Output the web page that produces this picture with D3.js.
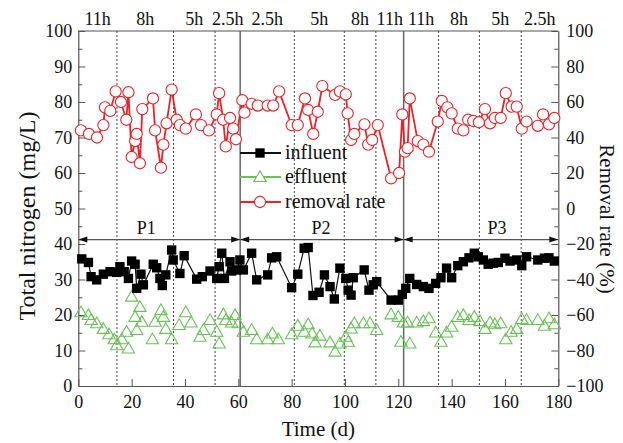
<!DOCTYPE html>
<html><head><meta charset="utf-8">
<script src="https://cdn.jsdelivr.net/npm/d3@7"></script>
<style>html,body{margin:0;padding:0;background:#fff}svg{display:block}</style>
</head><body><div id="chart"></div>
<script>
// ---- data ----
const removalRate = [[1,44],[4,42],[7,40],[9.4,47],[10,57],[12,55],[14,66],[16,60],[18,50],[18.8,65.5],[20,29],[21.3,38],[21.9,42],[23.1,25.5],[24,56],[28,62],[28.8,44],[31,23],[31.9,36],[33.1,48],[35,67],[36.9,50],[38.1,47],[40.3,45],[44.1,53],[46,47],[49,44],[51.9,53],[52.8,65],[54.3,50],[55.3,35],[56.9,51],[58.1,45],[59.1,39],[61.5,61],[62.3,54],[65,59],[67.3,58],[71,58],[73.1,58],[75.3,66],[80,47],[82.3,47],[85,62],[86.2,55.5],[88.1,42],[89.8,54.5],[91.5,69],[96.3,64],[98.1,66],[100.3,64.3],[101,53.6],[102.3,38.6],[103.5,42],[107.3,47.4],[108.7,36],[110.2,38.6],[112.3,47],[117.3,17],[120.3,20],[121.5,53],[122.5,32],[123.5,34],[124.3,62],[127.3,38],[129.4,36],[131.5,32],[134.8,49],[136.3,60.6],[138.4,57],[140,53.6],[142.3,45],[144.4,44],[146.2,50],[148.1,49.3],[150.2,48.6],[152.5,56],[154.4,48],[156.2,51],[158.4,51],[160.3,65],[162.5,57.4],[164.4,57.4],[166.3,45],[168.1,49],[172.3,46.6],[174.3,53],[176.5,47.4],[178.5,51]];
const influent = [[1.3,35.8],[3.8,34.8],[4.8,30.8],[6.9,29.9],[9.4,31.5],[11.9,32.2],[14.4,32],[15.6,33.6],[17.2,32.2],[18.8,30.3],[20,35.2],[21.3,34.3],[21.9,27.5],[23.5,31.5],[24.4,28.5],[28.1,34.3],[29.4,33.3],[30.6,30.3],[31.5,28.3],[32.8,31.3],[35,38.3],[35.6,35.5],[38.1,31.7],[39.7,36.7],[44.4,30.1],[46.5,30.8],[49.4,32.4],[51.9,30.3],[52.8,33.6],[53.8,37.4],[54.8,30.3],[56.9,35],[57.5,32.4],[59.4,32.7],[60.6,35.5],[61.9,32.7],[65,37.4],[66.9,29.9],[71,31.3],[72.5,36.1],[74.4,36.4],[80,27.7],[82.3,31.5],[84.7,38.8],[86.2,39],[88,25.5],[90.3,26.4],[92.3,31.3],[94.4,28],[96,24.5],[98.1,33.2],[100.3,30.3],[101.2,27],[102.3,25.6],[103.1,30.5],[107.2,32.7],[109,27],[110.6,28.5],[111.9,29.4],[117.3,24.2],[120,24.2],[121.5,25.8],[122.8,27.5],[124.3,30.3],[126.9,28.6],[129.4,28],[131.5,27.5],[134,28.9],[136,30.5],[138.1,33.2],[140,30.5],[142.3,33.9],[144.4,35],[146.5,36.1],[148.5,37.4],[150,36.4],[151.9,35.5],[153.7,34.3],[155.6,34.6],[157.5,34.8],[160,36],[161.9,35.2],[164.4,35.5],[166.3,33.9],[168.1,36.4],[172.3,35.5],[174.8,36],[176.5,36.1],[178.5,35.2]];
const effluent = [[1,20.8],[3.8,20],[4.8,18.6],[6.9,17.7],[9.4,16.1],[11.5,14.6],[13.5,13.2],[14.4,11.5],[16.3,13.2],[18.1,15.3],[18.8,10.6],[20,25.2],[21.3,19.5],[21.9,15.8],[23.1,22.3],[23.8,18.1],[27.8,13.2],[28.8,18.1],[31,21.4],[31.9,19.5],[32.8,16.1],[35,13.2],[37.8,17.2],[40.3,20.8],[42.3,17.9],[45.6,13.9],[46.9,15.8],[49.4,18.6],[51.9,15.3],[52.8,12],[54.4,20.2],[55.3,18.6],[57.5,17.9],[58.8,20],[60,17.7],[61.9,15.3],[65,15.8],[66.9,13.2],[71,13.2],[72.8,14.8],[75,13.2],[80,14.6],[82.3,17],[84.7,15.3],[86.2,17.4],[87.7,14.8],[88.8,12.3],[90.6,14.2],[94.4,12.3],[96.3,9.7],[98.1,12],[100.3,13.9],[101.2,12.5],[102.3,16.2],[103.5,17.7],[106.9,17.7],[109.4,17.7],[111.9,15.8],[117.3,20.2],[120,19.5],[121,12.5],[121.9,17.9],[123.5,17.9],[124.3,12],[126.9,17.9],[129.4,18.3],[131.5,19.1],[134,15.1],[136,12.5],[138.1,15.1],[140,16.7],[142.3,19.5],[144.4,20],[146.5,18.6],[148.5,19.5],[150.6,18.3],[152.5,16.1],[154.4,17.9],[156.2,17.4],[158.4,17.7],[160.3,13.2],[162.3,15.3],[164.4,16.1],[166.3,18.9],[168.1,18.6],[172.3,18.6],[174.8,17],[176.5,19.1],[178.5,17.4]];
const hrtBoundaries = [0,14.5,35.7,51.3,60.7,81,99.75,111.6,122,135.1,150.4,166.1,180];
const hrtLabels = ["11h","8h","5h","2.5h","2.5h","5h","8h","11h","11h","8h","5h","2.5h"];
const phaseBoundaries = [0,60.7,122,180];
const phaseLabels = ["P1","P2","P3"];
const phaseLabelDays = [25.5,91,157];
const leftTicks = d3.range(0,101,10);
const rightTicks = d3.range(-100,101,20);
const xTicks = d3.range(0,181,20);
const legendItems = ["influent","effluent","removal rate"];

// ---- drawing ----
const W=623,H=443;
const FONT="'Liberation Serif','Times New Roman',serif";
const RED="#e3262b", GREEN="#6cc05a", AX="#555";
const svg=d3.select("#chart").append("svg").attr("width",W).attr("height",H)
  .style("font-family",FONT);
const x=d3.scaleLinear().domain([0,180]).range([78.3,558.3]);
const yL=d3.scaleLinear().domain([0,100]).range([386,31]);
const yR=d3.scaleLinear().domain([-100,100]).range([386,31]);
const X0=x(0),X1=x(180),Y0=yL(0),Y1=yL(100);

// dashed HRT lines
const inner = hrtBoundaries.slice(1,-1).filter(d=>!phaseBoundaries.includes(d));
svg.append("g").selectAll("line").data(inner).join("line")
  .attr("x1",d=>x(d)).attr("x2",d=>x(d)).attr("y1",Y1).attr("y2",Y0)
  .attr("stroke","#444").attr("stroke-width",1).attr("stroke-dasharray","2,2");
// phase solid lines
svg.append("g").selectAll("line").data(phaseBoundaries.slice(1,-1)).join("line")
  .attr("x1",d=>x(d)).attr("x2",d=>x(d)).attr("y1",Y1).attr("y2",Y0)
  .attr("stroke","#666").attr("stroke-width",1.5);

// HRT labels on top
svg.append("g").selectAll("text").data(hrtLabels).join("text")
  .attr("x",(d,i)=>x((hrtBoundaries[i]+hrtBoundaries[i+1])/2)).attr("y",25)
  .attr("text-anchor","middle").attr("font-size",18).attr("fill","#111").text(d=>d);

// phase arrows
const arrowY=yR(-17.5);
const ph=svg.append("g");
phaseBoundaries.slice(0,-1).forEach((a,i)=>{
  const b=phaseBoundaries[i+1];
  const xa=x(a),xb=x(b);
  ph.append("line").attr("x1",xa).attr("x2",xb).attr("y1",arrowY).attr("y2",arrowY)
    .attr("stroke",AX).attr("stroke-width",1.2);
  ph.append("path").attr("d",`M${xa},${arrowY}L${xa+9},${arrowY-3}L${xa+9},${arrowY+3}Z`).attr("fill","#111");
  ph.append("path").attr("d",`M${xb},${arrowY}L${xb-9},${arrowY-3}L${xb-9},${arrowY+3}Z`).attr("fill","#111");
  ph.append("text").attr("x",x(phaseLabelDays[i])).attr("y",arrowY-6)
    .attr("text-anchor","middle").attr("font-size",18).attr("fill","#111").text(phaseLabels[i]);
});

// axes
function styleAxis(g){g.select(".domain").attr("stroke",AX).attr("stroke-width",1.2);
  g.selectAll(".tick line").attr("stroke",AX);
  g.selectAll("text").attr("font-family",FONT).attr("font-size",18).attr("fill","#111");}
svg.append("g").attr("transform",`translate(${X0},0)`)
  .call(d3.axisLeft(yL).tickValues(d3.range(5,100,10)).tickSize(-4).tickFormat(""))
  .call(g=>g.select(".domain").remove()).selectAll("line").attr("stroke",AX);
svg.append("g").attr("transform",`translate(${X0},0)`)
  .call(d3.axisLeft(yL).tickValues(leftTicks).tickSize(-7).tickSizeOuter(0).tickPadding(6)).call(styleAxis);
svg.append("g").attr("transform",`translate(${X1},0)`)
  .call(d3.axisRight(yR).tickValues(d3.range(-90,100,20)).tickSize(-4).tickFormat(""))
  .call(g=>g.select(".domain").remove()).selectAll("line").attr("stroke",AX);
svg.append("g").attr("transform",`translate(${X1},0)`)
  .call(d3.axisRight(yR).tickValues(rightTicks).tickSize(-7).tickSizeOuter(0).tickPadding(8)).call(styleAxis);
svg.append("g").attr("transform",`translate(0,${Y0})`)
  .call(d3.axisBottom(x).tickValues(xTicks).tickSize(-7).tickSizeOuter(0).tickPadding(9)).call(styleAxis);
svg.append("line").attr("x1",X0).attr("x2",X1).attr("y1",Y1).attr("y2",Y1).attr("stroke",AX).attr("stroke-width",1.2);

// series
const tri=d3.symbol().type(d3.symbolTriangle).size(66);
const sq=d3.symbol().type(d3.symbolSquare).size(88);
// effluent markers
svg.append("g").selectAll("path").data(effluent).join("path")
  .attr("transform",d=>`translate(${x(d[0])},${yL(d[1])+1})`).attr("d",tri)
  .attr("fill","none").attr("stroke",GREEN).attr("stroke-width",1.1);
// influent
svg.append("path").datum(influent)
  .attr("d",d3.line().x(d=>x(d[0])).y(d=>yL(d[1])))
  .attr("fill","none").attr("stroke","#111").attr("stroke-width",1.2);
svg.append("g").selectAll("path").data(influent).join("path")
  .attr("transform",d=>`translate(${x(d[0])},${yL(d[1])})`).attr("d",sq).attr("fill","#000");
// removal
svg.append("path").datum(removalRate)
  .attr("d",d3.line().x(d=>x(d[0])).y(d=>yR(d[1])))
  .attr("fill","none").attr("stroke",RED).attr("stroke-width",1.8);
svg.append("g").selectAll("circle").data(removalRate).join("circle")
  .attr("cx",d=>x(d[0])).attr("cy",d=>yR(d[1])).attr("r",5.6)
  .attr("fill","#fff").attr("stroke",RED).attr("stroke-width",1.1);

// legend
const lg=svg.append("g");
const lgY=[153,177,202], lgC=["#111",GREEN,RED];
legendItems.forEach((t,i)=>{
  lg.append("line").attr("x1",240).attr("x2",281).attr("y1",lgY[i]).attr("y2",lgY[i])
    .attr("stroke",lgC[i]).attr("stroke-width",2);
  if(i===0) lg.append("path").attr("transform",`translate(260,${lgY[i]})`).attr("d",sq).attr("fill","#000");
  else if(i===1) lg.append("path").attr("transform",`translate(260,${lgY[i]+1})`).attr("d",tri).attr("fill","#fff").attr("stroke",GREEN).attr("stroke-width",1.1);
  else lg.append("circle").attr("cx",260).attr("cy",lgY[i]).attr("r",5.6).attr("fill","#fff").attr("stroke",RED).attr("stroke-width",1.1);
  lg.append("text").attr("x",285).attr("y",lgY[i]+6).attr("font-size",20).attr("fill","#111").text(t);
});

// titles
svg.append("text").attr("transform",`translate(35,216) rotate(-90)`)
  .attr("text-anchor","middle").attr("font-size",24).attr("fill","#111").text("Total nitrogen (mg/L)");
svg.append("text").attr("transform",`translate(600,219) rotate(90)`)
  .attr("text-anchor","middle").attr("font-size",21).attr("fill","#111").text("Removal rate (%)");
svg.append("text").attr("x",(X0+X1)/2).attr("y",436)
  .attr("text-anchor","middle").attr("font-size",21).attr("fill","#111").text("Time (d)");
</script></body></html>
